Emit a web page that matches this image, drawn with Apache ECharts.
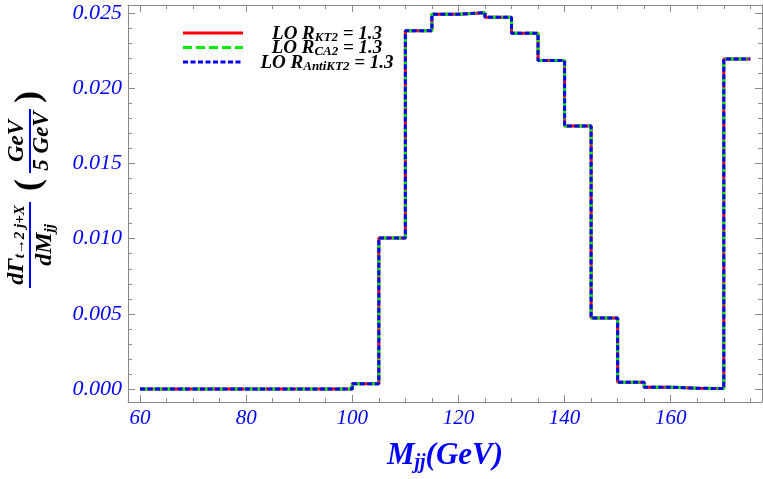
<!DOCTYPE html>
<html>
<head>
<meta charset="utf-8">
<script src="https://cdn.jsdelivr.net/npm/echarts@6/dist/echarts.min.js"></script>
<style>html,body{margin:0;padding:0;background:#fff}#c{width:763px;height:479px}</style>
</head>
<body>
<div id="c"></div>
<script>
// Histogram bin left edges (GeV) and values dΓ/dMjj
var binEdges = [60, 65, 70, 75, 80, 85, 90, 95, 100, 105, 110, 115, 120, 125, 130, 135, 140, 145, 150, 155, 160, 165, 170];
var binWidth = 5;
var valuesKT2 = [0, 0, 0, 0, 0, 0, 0, 0, 0.00035, 0.01005, 0.02384, 0.02493, 0.02504, 0.02473, 0.02367, 0.02185, 0.0175, 0.00472, 0.00045, 0.00012, 0.00005, 0.00003, 0.02196];
var valuesCA2 = [0, 0, 0, 0, 0, 0, 0, 0, 0.00035, 0.01005, 0.02384, 0.02493, 0.02504, 0.02473, 0.02367, 0.02185, 0.0175, 0.00472, 0.00045, 0.00012, 0.00005, 0.00003, 0.02196];
var valuesAntiKT2 = [0, 0, 0, 0, 0, 0, 0, 0, 0.00035, 0.01005, 0.02384, 0.02493, 0.02504, 0.02473, 0.02367, 0.02185, 0.0175, 0.00472, 0.00045, 0.00012, 0.00005, 0.00003, 0.02196];
var xMajorTicks = [60, 80, 100, 120, 140, 160];
var xMinorTicks = [65, 70, 75, 85, 90, 95, 105, 110, 115, 125, 130, 135, 145, 150, 155, 165, 170, 175];
var yMajorTicks = [0, 0.005, 0.01, 0.015, 0.02, 0.025];
var yMinorTicks = [0.001, 0.002, 0.003, 0.004, 0.006, 0.007, 0.008, 0.009, 0.011, 0.012, 0.013, 0.014, 0.016, 0.017, 0.018, 0.019, 0.021, 0.022, 0.023, 0.024];
var legendNames = ['KT2', 'CA2', 'AntiKT2'];

function hist(vals) {
  var d = binEdges.map(function (e, i) { return [e, vals[i]]; });
  d.push([binEdges[binEdges.length - 1] + binWidth, vals[vals.length - 1]]);
  return d;
}

var FONT = '"Liberation Serif", "Times New Roman", serif';
var BLUE = '#0000ff';
var FRAME = '#8a8a8a';
var XMIN = 57.74, XMAX = 177.2, YMIN = -0.000865, YMAX = 0.02555;

function xAx(pos, ticks, len, labels, line) {
  return {
    type: 'value', position: pos, min: XMIN, max: XMAX,
    axisLine: { show: line, onZero: false, lineStyle: { color: FRAME, width: 1 } },
    axisTick: { show: true, inside: true, length: len, customValues: ticks, lineStyle: { color: FRAME, width: 1 } },
    axisLabel: labels ? { show: true, customValues: ticks, color: BLUE, fontFamily: FONT, fontStyle: 'italic', fontSize: 21, margin: 6 } : { show: false },
    splitLine: { show: false },
    name: labels ? '{m|M}{s|jj}{m|(GeV)}' : '',
    nameLocation: 'middle', nameGap: 37,
    nameTextStyle: labels ? {
      rich: {
        m: { fontFamily: FONT, fontStyle: 'italic', fontWeight: 'bold', fontSize: 31, color: BLUE },
        s: { fontFamily: FONT, fontStyle: 'italic', fontWeight: 'bold', fontSize: 20, color: BLUE, padding: [14, 0, 0, 0] }
      }
    } : {}
  };
}
function yAx(pos, ticks, len, labels, line) {
  return {
    type: 'value', position: pos, min: YMIN, max: YMAX,
    axisLine: { show: line, onZero: false, lineStyle: { color: FRAME, width: 1 } },
    axisTick: { show: true, inside: true, length: len, customValues: ticks, lineStyle: { color: FRAME, width: 1 } },
    axisLabel: labels ? { show: true, customValues: ticks, color: BLUE, fontFamily: FONT, fontStyle: 'italic', fontSize: 22, margin: 6,
      formatter: function (v) { return v.toFixed(3); } } : { show: false },
    splitLine: { show: false }
  };
}

var lineDefs = [
  { name: 'LO R_KT2 = 1.3', data: valuesKT2, color: '#ff0000', type: 'solid' },
  { name: 'LO R_CA2 = 1.3', data: valuesCA2, color: '#00ee00', type: [9, 4] },
  { name: 'LO R_AntiKT2 = 1.3', data: valuesAntiKT2, color: '#0000ff', type: [5, 2.5] }
];

var richLeg = {
  m: { fontFamily: FONT, fontStyle: 'italic', fontWeight: 'bold', fontSize: 19, color: '#000' },
  s: { fontFamily: FONT, fontStyle: 'italic', fontWeight: 'bold', fontSize: 13, color: '#000', padding: [7, 0, 0, 0] }
};
var legendGraphics = [];
lineDefs.forEach(function (d, i) {
  var y = 33 + i * 14.5;
  legendGraphics.push({
    type: 'line', shape: { x1: 183, y1: y, x2: 243, y2: y },
    style: { stroke: d.color, lineWidth: 3, lineDash: d.type === 'solid' ? null : d.type }
  });
  legendGraphics.push({
    type: 'text', x: 327, y: y + 1,
    style: { text: '{m|LO R}{s|' + legendNames[i] + '}{m| = 1.3}', rich: richLeg, align: 'center', verticalAlign: 'middle' }
  });
});

var richT = {
  b: { fontFamily: FONT, fontStyle: 'italic', fontWeight: 'bold', fontSize: 24, color: BLUE },
  s: { fontFamily: FONT, fontStyle: 'italic', fontWeight: 'bold', fontSize: 15, color: BLUE, padding: [6, 0, 0, 0] },
  d: { fontFamily: FONT, fontStyle: 'italic', fontWeight: 'bold', fontSize: 15, color: BLUE, padding: [12, 0, 0, 0] },
  g: { fontFamily: FONT, fontStyle: 'italic', fontWeight: 'bold', fontSize: 23, color: BLUE },
  p: { fontFamily: FONT, fontWeight: 'bold', fontSize: 36, color: BLUE }
};
var yTitle = {
  type: 'group', x: 30, y: 245, rotation: Math.PI / 2,
  children: [
    { type: 'line', shape: { x1: -43, y1: 0, x2: 43, y2: 0 }, style: { stroke: BLUE, lineWidth: 2 } },
    { type: 'text', x: 0, y: -1, style: { text: '{b|dΓ}{s|t→2 j+X}', rich: richT, align: 'center', verticalAlign: 'bottom' } },
    { type: 'text', x: 0, y: 1, style: { text: '{b|dM}{d|jj}', rich: richT, align: 'center', verticalAlign: 'top' } },
    { type: 'text', x: 60, y: 0, style: { text: '{p|(}', rich: richT, align: 'center', verticalAlign: 'middle' } },
    { type: 'line', shape: { x1: 72, y1: 0, x2: 136, y2: 0 }, style: { stroke: BLUE, lineWidth: 2 } },
    { type: 'text', x: 104, y: -1, style: { text: '{g|GeV}', rich: richT, align: 'center', verticalAlign: 'bottom' } },
    { type: 'text', x: 104, y: 1, style: { text: '{g|5 GeV}', rich: richT, align: 'center', verticalAlign: 'top' } },
    { type: 'text', x: 148, y: 0, style: { text: '{p|)}', rich: richT, align: 'center', verticalAlign: 'middle' } }
  ]
};

var chart = echarts.init(document.getElementById('c'), null, { renderer: 'canvas' });
chart.setOption({
  animation: false,
  backgroundColor: '#fff',
  grid: { left: 128, right: 1, top: 5, bottom: 77, containLabel: false, outerBoundsMode: 'none' },
  xAxis: [
    xAx('bottom', xMajorTicks, 7, true, true),
    xAx('bottom', xMinorTicks, 4, false, false),
    xAx('top', xMajorTicks, 7, false, true),
    xAx('top', xMinorTicks, 4, false, false)
  ],
  yAxis: [
    yAx('left', yMajorTicks, 7, true, true),
    yAx('left', yMinorTicks, 4, false, false),
    yAx('right', yMajorTicks, 7, false, true),
    yAx('right', yMinorTicks, 4, false, false)
  ],
  series: lineDefs.map(function (d) {
    return {
      type: 'line', name: d.name, step: 'end', data: hist(d.data),
      xAxisIndex: 0, yAxisIndex: 0, showSymbol: false, symbol: 'none',
      lineStyle: { color: d.color, width: 3, type: d.type, cap: 'butt' }
    };
  }),
  graphic: legendGraphics.concat([yTitle])
});
</script>
</body>
</html>
